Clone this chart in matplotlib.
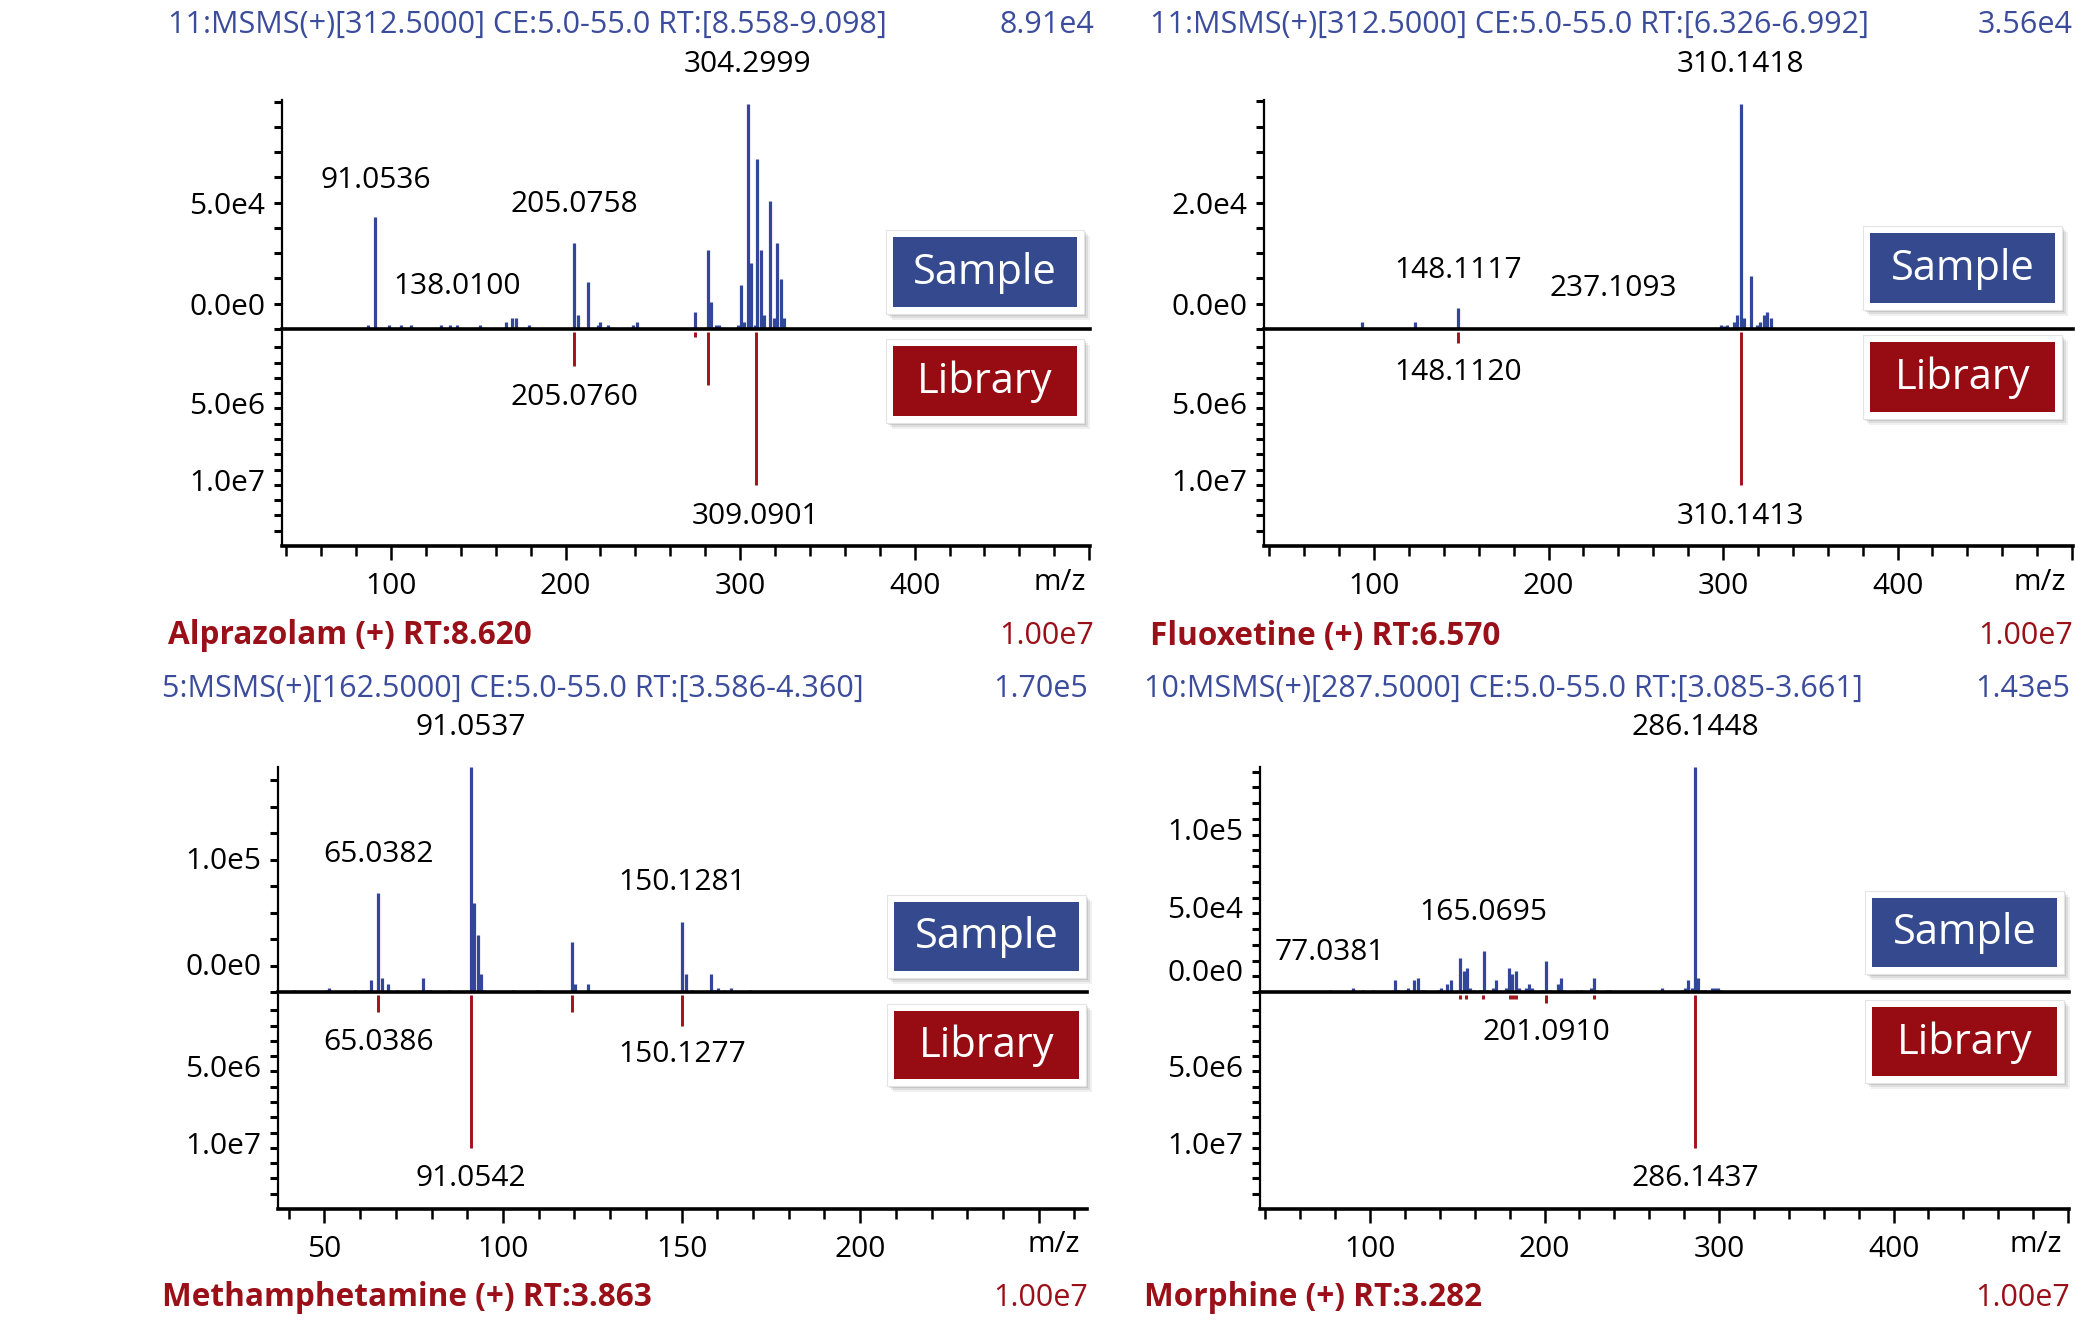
import matplotlib
matplotlib.use("Agg")
import matplotlib.pyplot as plt
import matplotlib.transforms as mtransforms
from matplotlib.patches import Rectangle
from matplotlib.ticker import FixedLocator, MultipleLocator, NullFormatter

plt.rcParams['font.family'] = ['Open Sans', 'DejaVu Sans']

# ---------------------------------------------------------------- data
# Alprazolam
ALP_S_MZ = [65.0, 76.0, 77.9, 79.9, 87.0, 91.05, 92.8, 94.7, 98.6, 102.0, 104.0, 105.9, 107.8,
            111.7, 115.5, 117.4, 119.4, 123.2, 128.6, 130.9, 134.0, 138.01, 151.2, 153.1,
            163.7, 165.6, 169.5, 171.4, 175.2, 179.1, 188.7, 190.6, 192.6, 203.7, 205.08,
            207.0, 212.6, 216.7, 218.6, 219.9, 224.3, 226.3, 228.2, 238.8, 240.7, 244.6,
            252.3, 255.2, 270.6, 274.4, 276.4, 279.6, 281.6, 283.5, 286.0, 288.0, 294.7,
            298.6, 300.6, 302.5, 304.3, 306.4, 308.3, 309.8, 311.8, 313.7, 315.6, 317.2,
            319.4, 321.4, 323.3, 325.2, 327.6, 329.0]
ALP_S_INT = [530, 530, 530, 530, 1590, 44160, 530, 530, 1590, 530, 530, 1590, 530,
             1590, 530, 530, 530, 530, 1590, 530, 1590, 1590, 1590, 530,
             530, 2920, 4380, 4380, 530, 1590, 530, 530, 530, 530, 33950,
             5570, 18430, 530, 1590, 2920, 1590, 530, 530, 1590, 2920, 530,
             530, 530, 530, 6900, 530, 530, 31290, 10740, 1590, 1590, 530,
             1590, 17240, 2920, 89100, 26250, 1590, 67490, 31290, 5570, 530, 50650,
             4240, 33950, 19760, 4240, 530, 530]
ALP_L_MZ = [205.076, 274.4, 281.6, 309.0901]
ALP_L_INT = [2.2e6, 3.0e5, 3.46e6, 1.0e7]
ALP_S_LABELS = ["91.0536", "138.0100", "205.0758", "304.2999"]
ALP_S_LABEL_MZ = [91.05, 138.01, 205.08, 304.3]
ALP_L_LABELS = ["205.0760", "309.0901"]
ALP_L_LABEL_MZ = [205.08, 309.09]

# Fluoxetine
FLX_S_MZ = [78.8, 93.0, 94.9, 96.8, 98.6, 105.3, 107.2, 110.0, 114.8, 116.6, 118.5, 120.4,
            122.3, 123.7, 129.9, 138.4, 141.3, 148.11, 150.2, 155.5, 170.7, 172.6, 181.1,
            192.5, 237.1, 251.2, 288.2, 298.6, 300.5, 302.4, 306.2, 308.2, 310.14, 311.8,
            315.8, 319.4, 321.3, 323.2, 325.1, 327.2]
FLX_S_INT = [212, 1166, 212, 212, 212, 212, 212, 212, 212, 212, 212, 212,
             212, 1166, 212, 212, 212, 3286, 212, 212, 212, 212, 212,
             212, 212, 212, 212, 636, 530, 636, 1166, 2226, 35600, 1696,
             8427, 636, 1166, 2226, 2756, 1696]
FLX_L_MZ = [148.112, 310.1413]
FLX_L_INT = [7.4e5, 1.0e7]
FLX_S_LABELS = ["148.1117", "237.1093", "310.1418"]
FLX_S_LABEL_MZ = [148.11, 237.11, 310.14]
FLX_L_LABELS = ["148.1120", "310.1413"]
FLX_L_LABEL_MZ = [148.11, 310.14]

# Methamphetamine
MET_S_MZ = [41.6, 50.5, 51.4, 58.6, 62.1, 63.1, 65.04, 66.0, 67.7, 70.4, 77.7, 78.6, 79.6,
            84.9, 91.05, 92.0, 92.9, 93.8, 94.8, 102.9, 109.4, 110.3, 119.4, 120.2, 123.8,
            150.13, 151.1, 152.8, 158.2, 159.1, 160.1, 161.9, 163.7, 169.1]
MET_S_INT = [1260, 1260, 3270, 1260, 1260, 8820, 74800, 10830, 5790, 1260, 10830, 1260, 1260,
             1260, 170000, 67510, 43070, 13350, 1260, 1260, 1260, 1260, 38040, 5790, 5790,
             52650, 13350, 1260, 13350, 1260, 3270, 1260, 3270, 1260]
MET_L_MZ = [65.0386, 91.0542, 119.4, 150.1277]
MET_L_INT = [1.13e6, 1.0e7, 1.13e6, 2.0e6]
MET_S_LABELS = ["65.0382", "91.0537", "150.1281"]
MET_S_LABEL_MZ = [65.04, 91.05, 150.13]
MET_L_LABELS = ["65.0386", "150.1277", "91.0542"]
MET_L_LABEL_MZ = [65.04, 150.13, 91.05]

# Morphine
MOR_S_MZ = [77.04, 90.1, 95.9, 101.6, 114.3, 116.2, 120.1, 122.0, 125.5, 127.4, 129.3, 131.2,
            138.7, 140.7, 144.3, 146.2, 151.8, 153.7, 155.6, 157.6, 159.5, 163.0, 165.07,
            167.0, 170.4, 172.4, 178.1, 179.7, 181.6, 183.5, 185.4, 189.3, 191.0, 193.0,
            198.3, 201.09, 202.9, 207.5, 209.5, 211.4, 218.9, 220.8, 226.4, 228.1, 230.0,
            235.8, 237.7, 267.5, 278.7, 280.6, 282.5, 284.4, 286.14, 288.1, 290.0, 292.0,
            295.8, 297.7, 299.6, 301.4]
MOR_S_INT = [1060, 2750, 1060, 1060, 7420, 1060, 1060, 2750, 7420, 9110, 1060, 1060,
             1060, 2750, 4870, 7420, 21830, 13350, 15470, 2750, 1060, 1060, 25850,
             1060, 2750, 7420, 2750, 15470, 11230, 13350, 2750, 2750, 4870, 2750,
             1060, 19500, 1060, 4870, 9110, 1060, 1060, 1060, 2750, 9110, 1060,
             1060, 1060, 2750, 1060, 2750, 7420, 2750, 143000, 9110, 1060, 1060,
             2750, 2750, 2750, 1060]
MOR_L_MZ = [151.8, 155.1, 164.7, 180.1, 182.0, 183.9, 201.091, 228.1, 286.1437]
MOR_L_INT = [2.8e5, 2.8e5, 2.8e5, 2.8e5, 2.8e5, 2.8e5, 5.0e5, 2.8e5, 1.0e7]
MOR_S_LABELS = ["77.0381", "165.0695", "286.1448"]
MOR_S_LABEL_MZ = [77.04, 165.07, 286.14]
MOR_L_LABELS = ["201.0910", "286.1437"]
MOR_L_LABEL_MZ = [201.09, 286.14]

HEADERS = ["11:MSMS(+)[312.5000] CE:5.0-55.0 RT:[8.558-9.098]",
           "11:MSMS(+)[312.5000] CE:5.0-55.0 RT:[6.326-6.992]",
           "5:MSMS(+)[162.5000] CE:5.0-55.0 RT:[3.586-4.360]",
           "10:MSMS(+)[287.5000] CE:5.0-55.0 RT:[3.085-3.661]"]
SAMPLE_MAX = ["8.91e4", "3.56e4", "1.70e5", "1.43e5"]
COMPOUNDS = ["Alprazolam (+) RT:8.620", "Fluoxetine (+) RT:6.570",
             "Methamphetamine (+) RT:3.863", "Morphine (+) RT:3.282"]
LIB_MAX = ["1.00e7", "1.00e7", "1.00e7", "1.00e7"]

# sample y-axis ticks (step, top, labelled ticks)
S_TICK_STEP = [1e4, 0.4e4, 2e4, 1e4]
S_TICK_TOP = [9e4, 3.6e4, 1.6e5, 1.4e5]
S_TICK_LABELS = [{1e4: "0.0e0", 5e4: "5.0e4"},
                 {0.4e4: "0.0e0", 2e4: "2.0e4"},
                 {2e4: "0.0e0", 1e5: "1.0e5"},
                 {1e4: "0.0e0", 5e4: "5.0e4", 1e5: "1.0e5"}]
L_TICK_LABELS = {5e6: "5.0e6", 1e7: "1.0e7"}
X_MAJOR_LABELS = [[100, 200, 300, 400], [100, 200, 300, 400],
                  [50, 100, 150, 200], [100, 200, 300, 400]]

# ---------------------------------------------------------------- style
BLUE_BAR = "#33479a"
BLUE_TXT = "#3b4c9c"
BLUE_BOX = "#35498e"
RED_LIB = "#a3111a"
RED_BOX = "#960c12"
RED_TXT = "#9a1018"
FS = 21.5
FS_HEAD = 22
FS_FOOT = 22.7

W, H = 2075, 1331
fig = plt.figure(figsize=(W / 100, H / 100), dpi=100)


def fx(x):
    return x / W


def fy(y):
    return 1 - y / H


def add_axes_px(x0, x1, ytop, ybot):
    return fig.add_axes([fx(x0), fy(ybot), (x1 - x0) / W, (ybot - ytop) / H])


LAYOUT = [
    dict(x0=282, x1=1090, st=100, sb=329, lt=332, lb=546, xlim=(37.5, 500.5), minor=20, major=100,
         hx=168, hr=1094, hy=25, fty=636, mzx=1060, mzy=583, s_shift=0,
         box=(893, 1077, 237, 307, 346, 416),
         sly=[180, 286, 205, 65], lly=[397, 517]),
    dict(x0=1264, x1=2073, st=100, sb=329, lt=332, lb=546, xlim=(37.0, 500.5), minor=20, major=100,
         hx=1150, hr=2073, hy=25, fty=636, mzx=2040, mzy=583, s_shift=0,
         box=(1870, 2055, 233, 303, 342, 412),
         sly=[270, 289, 65], lly=[373, 517]),
    dict(x0=278, x1=1087, st=767, sb=992, lt=995, lb=1209, xlim=(37.0, 263.5), minor=10, major=50,
         hx=162, hr=1088, hy=689, fty=1298, mzx=1054, mzy=1245, s_shift=2,
         box=(894, 1079, 902, 971, 1011, 1079),
         sly=[855, 728, 883], lly=[1043, 1055, 1178]),
    dict(x0=1260, x1=2069, st=767, sb=992, lt=995, lb=1209, xlim=(37.0, 500.5), minor=20, major=100,
         hx=1144, hr=2070, hy=689, fty=1298, mzx=2036, mzy=1245, s_shift=6,
         box=(1872, 2057, 898, 967, 1007, 1076),
         sly=[952, 913, 728], lly=[1033, 1178]),
]

PANELS = [
    (ALP_S_MZ, ALP_S_INT, ALP_L_MZ, ALP_L_INT, ALP_S_LABELS, ALP_S_LABEL_MZ, ALP_L_LABELS, ALP_L_LABEL_MZ),
    (FLX_S_MZ, FLX_S_INT, FLX_L_MZ, FLX_L_INT, FLX_S_LABELS, FLX_S_LABEL_MZ, FLX_L_LABELS, FLX_L_LABEL_MZ),
    (MET_S_MZ, MET_S_INT, MET_L_MZ, MET_L_INT, MET_S_LABELS, MET_S_LABEL_MZ, MET_L_LABELS, MET_L_LABEL_MZ),
    (MOR_S_MZ, MOR_S_INT, MOR_L_MZ, MOR_L_INT, MOR_S_LABELS, MOR_S_LABEL_MZ, MOR_L_LABELS, MOR_L_LABEL_MZ),
]


def legend_box(x0, x1, y0, y1, color, text):
    pad = 7
    for i, a in enumerate([0.10, 0.08, 0.06]):
        off = 2 + 2 * i
        fig.add_artist(Rectangle((fx(x0 - pad + off), fy(y1 + pad + off)),
                                 (x1 - x0 + 2 * pad) / W, (y1 - y0 + 2 * pad) / H,
                                 transform=fig.transFigure, facecolor="black", alpha=a,
                                 edgecolor="none", zorder=5))
    fig.add_artist(Rectangle((fx(x0 - pad), fy(y1 + pad)), (x1 - x0 + 2 * pad) / W,
                             (y1 - y0 + 2 * pad) / H, transform=fig.transFigure,
                             facecolor="white", edgecolor="#e4e4e4", lw=0.8, zorder=6))
    fig.add_artist(Rectangle((fx(x0), fy(y1)), (x1 - x0) / W, (y1 - y0) / H,
                             transform=fig.transFigure, facecolor=color,
                             edgecolor="none", zorder=7))
    fig.text(fx((x0 + x1) / 2), fy((y0 + y1) / 2 + 1), text, color="white", fontsize=30,
             ha="center", va="center", zorder=8)


def shift_labels(ax, px):
    off = mtransforms.ScaledTranslation(0, px / 100, fig.dpi_scale_trans)
    for lab in ax.get_yticklabels():
        lab.set_transform(lab.get_transform() + off)


for k, (lay, pan) in enumerate(zip(LAYOUT, PANELS)):
    s_mz, s_int, l_mz, l_int, s_lab, s_lab_mz, l_lab, l_lab_mz = pan
    smax = max(s_int)

    # --- sample axes (top)
    axS = add_axes_px(lay["x0"], lay["x1"], lay["st"], lay["sb"])
    axS.patch.set_alpha(0)
    axS.vlines(s_mz, 0, s_int, colors=BLUE_BAR, lw=2.3)
    axS.set_xlim(*lay["xlim"])
    bar_px = lay["sb"] - (lay["st"] + 4 if k < 2 else lay["st"])
    axS.set_ylim(0, smax * (lay["sb"] - lay["st"]) / bar_px)
    for side in ("top", "right"):
        axS.spines[side].set_visible(False)
    axS.spines["left"].set_linewidth(1.6)
    axS.spines["bottom"].set_linewidth(2.6)
    axS.tick_params(axis="x", bottom=False, labelbottom=False)
    step = S_TICK_STEP[k]
    n = int(round(S_TICK_TOP[k] / step))
    yt = [i * step for i in range(n + 1)]
    axS.yaxis.set_major_locator(FixedLocator(yt))
    labmap = S_TICK_LABELS[k]
    ylabels = []
    for v in yt:
        lab = ""
        for key, txt in labmap.items():
            if abs(key - v) < step * 0.01:
                lab = txt
        ylabels.append(lab)
    axS.set_yticklabels(ylabels)
    axS.tick_params(axis="y", length=6, width=2.2, pad=6, labelsize=FS)
    shift_labels(axS, lay["s_shift"])

    # --- library axes (bottom, inverted)
    axL = add_axes_px(lay["x0"], lay["x1"], lay["lt"], lay["lb"])
    axL.patch.set_alpha(0)
    axL.vlines(l_mz, 0, l_int, colors=RED_LIB, lw=2.1)
    axL.set_xlim(*lay["xlim"])
    axL.set_ylim(1.4e7, 0)
    for side in ("top", "right"):
        axL.spines[side].set_visible(False)
    axL.spines["left"].set_linewidth(1.6)
    axL.spines["bottom"].set_linewidth(2.6)
    lt = [i * 1e6 for i in range(1, 14)]
    axL.yaxis.set_major_locator(FixedLocator(lt))
    axL.set_yticklabels([L_TICK_LABELS.get(v, "") for v in lt])
    axL.tick_params(axis="y", length=6, width=2.2, pad=6, labelsize=FS)
    shift_labels(axL, 5)

    majors = list(X_MAJOR_LABELS[k]) + [X_MAJOR_LABELS[k][-1] + lay["major"]]
    axL.xaxis.set_major_locator(FixedLocator(majors))
    axL.set_xticklabels([str(v) for v in X_MAJOR_LABELS[k]] + [""])
    axL.xaxis.set_minor_locator(MultipleLocator(lay["minor"]))
    axL.xaxis.set_minor_formatter(NullFormatter())
    axL.tick_params(axis="x", which="major", length=10, width=1.8, pad=9, labelsize=FS)
    axL.tick_params(axis="x", which="minor", length=7, width=1.8)

    # --- peak labels
    trS = mtransforms.blended_transform_factory(axS.transData, fig.transFigure)
    for txt, mz, ypx in zip(s_lab, s_lab_mz, lay["sly"]):
        axS.text(mz, fy(ypx), txt, transform=trS, ha="center", va="center",
                 fontsize=FS, color="black", clip_on=False)
    trL = mtransforms.blended_transform_factory(axL.transData, fig.transFigure)
    for txt, mz, ypx in zip(l_lab, l_lab_mz, lay["lly"]):
        axL.text(mz, fy(ypx), txt, transform=trL, ha="center", va="center",
                 fontsize=FS, color="black", clip_on=False)

    # --- texts
    fig.text(fx(lay["hx"]), fy(lay["hy"]), HEADERS[k], color=BLUE_TXT, fontsize=FS_HEAD,
             ha="left", va="center")
    fig.text(fx(lay["hr"]), fy(lay["hy"]), SAMPLE_MAX[k], color=BLUE_TXT, fontsize=FS_HEAD,
             ha="right", va="center")
    fig.text(fx(lay["hx"]), fy(lay["fty"]), COMPOUNDS[k], color=RED_TXT, fontsize=FS_FOOT,
             fontweight="bold", ha="left", va="center")
    fig.text(fx(lay["hr"]), fy(lay["fty"]), LIB_MAX[k], color=RED_TXT, fontsize=FS_HEAD,
             ha="right", va="center")
    fig.text(fx(lay["mzx"]), fy(lay["mzy"]), "m/z", color="black", fontsize=FS,
             ha="center", va="center")

    bx0, bx1, sy0, sy1, ly0, ly1 = lay["box"]
    legend_box(bx0, bx1, sy0, sy1, BLUE_BOX, "Sample")
    legend_box(bx0, bx1, ly0, ly1, RED_BOX, "Library")

fig.savefig("out.png", dpi=100)
